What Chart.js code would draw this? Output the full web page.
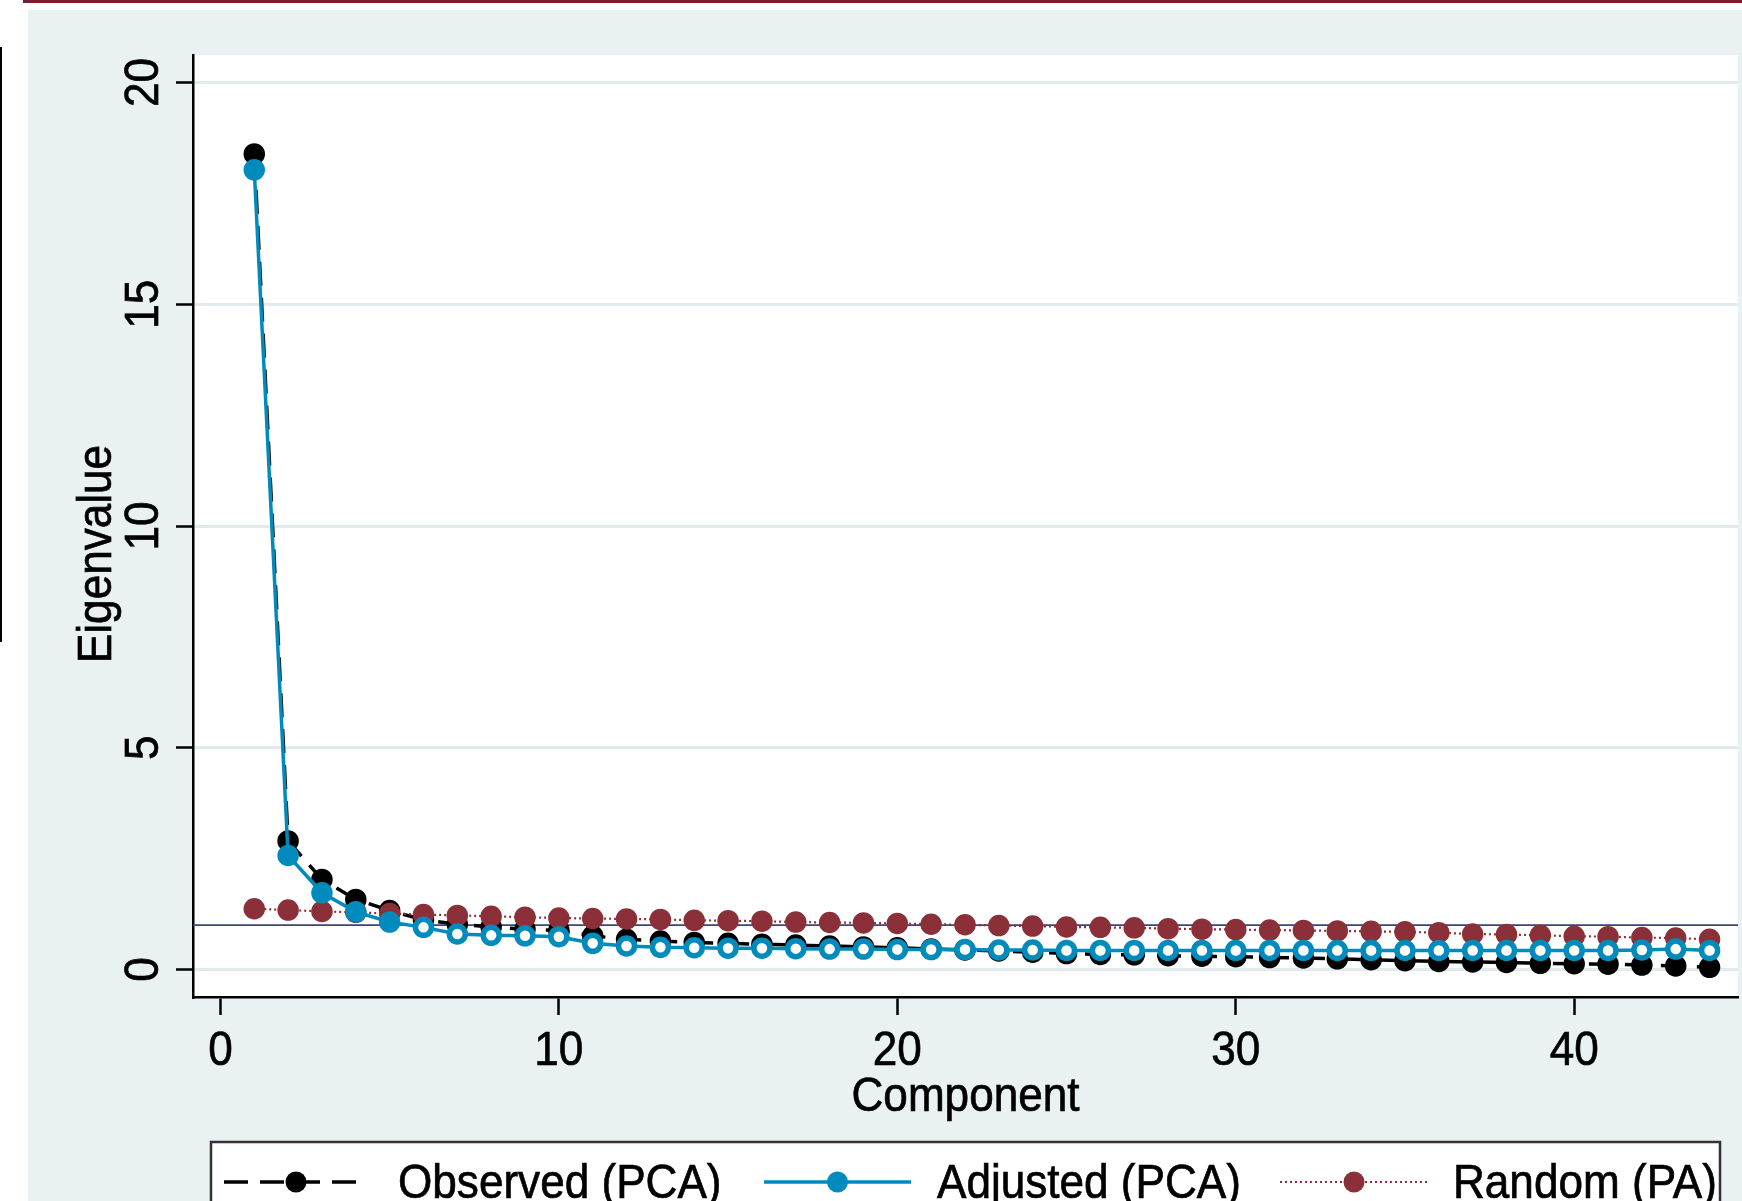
<!DOCTYPE html>
<html>
<head>
<meta charset="utf-8">
<script src="https://cdn.jsdelivr.net/npm/chart.js@4.4.1/dist/chart.umd.min.js"></script>
<style>
  html, body { margin: 0; padding: 0; background: #fff; }
  #wrap { width: 1742px; height: 1201px; }
</style>
</head>
<body>
<div id="wrap"><canvas id="screePlot" width="1742" height="1201"></canvas></div>
<script>
// data
const components = [1, 2, 3, 4, 5, 6, 7, 8, 9, 10, 11, 12, 13, 14, 15, 16, 17, 18, 19, 20, 21, 22,
  23, 24, 25, 26, 27, 28, 29, 30, 31, 32, 33, 34, 35, 36, 37, 38, 39, 40, 41, 42, 43, 44]
const observed = [18.39, 2.90, 2.03, 1.58, 1.33, 1.12, 1.02, 0.96, 0.91, 0.88, 0.76, 0.68, 0.64, 0.61,
  0.59, 0.57, 0.55, 0.53, 0.51, 0.49, 0.46, 0.44, 0.42, 0.39, 0.36, 0.34, 0.33, 0.31, 0.30, 0.29,
  0.27, 0.26, 0.24, 0.22, 0.20, 0.18, 0.17, 0.16, 0.14, 0.13, 0.12, 0.10, 0.08, 0.05]
const adjusted = [18.03, 2.57, 1.73, 1.30, 1.07, 0.95, 0.80, 0.77, 0.76, 0.74, 0.59, 0.53, 0.50, 0.49,
  0.48, 0.48, 0.47, 0.46, 0.46, 0.45, 0.45, 0.45, 0.44, 0.44, 0.43, 0.43, 0.43, 0.43, 0.43, 0.43,
  0.43, 0.43, 0.43, 0.43, 0.43, 0.43, 0.43, 0.43, 0.43, 0.43, 0.43, 0.44, 0.46, 0.43]
const random = [1.37, 1.34, 1.31, 1.29, 1.26, 1.24, 1.22, 1.20, 1.18, 1.16, 1.15, 1.14, 1.13, 1.11,
  1.10, 1.09, 1.07, 1.06, 1.05, 1.04, 1.02, 1.01, 0.99, 0.98, 0.96, 0.95, 0.94, 0.92, 0.91, 0.90,
  0.89, 0.88, 0.87, 0.86, 0.85, 0.83, 0.80, 0.79, 0.77, 0.75, 0.74, 0.72, 0.71, 0.68]
const seriesNames = ['Observed (PCA)', 'Adjusted (PCA)', 'Random (PA)']
const xTicks = [0, 10, 20, 30, 40]
const yTicks = [0, 5, 10, 15, 20]
const refLine = 1
const xTitle = 'Component'
const yTitle = 'Eigenvalue'

// look
const BLUE = 'rgb(0, 139, 188)'
const RED = 'rgb(139, 48, 56)'
const BG = '#e9f1f3'
const GRID = '#e1ebee'
const FONT = '49px "Liberation Sans", Arial, sans-serif'
const SQUEEZE = 0.9

function squeezedText (ctx, text, x, y, align, angle) {
  ctx.save()
  ctx.translate(x, y)
  if (angle) ctx.rotate(angle)
  ctx.scale(SQUEEZE, 1)
  ctx.font = FONT
  ctx.fillStyle = '#000'
  ctx.strokeStyle = '#000'
  ctx.lineWidth = 0.7
  ctx.textAlign = align
  ctx.textBaseline = 'alphabetic'
  ctx.fillText(text, 0, 0)
  ctx.strokeText(text, 0, 0) // Stata's Helvetica renders a bit heavier
  ctx.restore()
}

const framePlugin = {
  id: 'frame',
  beforeDraw (chart) {
    const { ctx, chartArea } = chart
    ctx.save()
    ctx.fillStyle = '#fff'
    ctx.fillRect(0, 0, chart.width, chart.height)
    ctx.fillStyle = BG
    ctx.fillRect(28, 10, chart.width - 28, chart.height - 10)
    // bits of the page around the graph
    ctx.fillStyle = '#7a1b30'
    ctx.fillRect(23, 0, chart.width - 23, 3)
    ctx.fillStyle = '#000'
    ctx.fillRect(0, 47, 2, 595)
    ctx.fillStyle = '#fff'
    ctx.fillRect(chartArea.left, chartArea.top, chartArea.right - chartArea.left, chartArea.bottom - chartArea.top)
    ctx.restore()
  },
  beforeDatasetsDraw (chart) {
    // horizontal line at eigenvalue = 1
    const { ctx, chartArea, scales } = chart
    const y = scales.y.getPixelForValue(refLine)
    ctx.save()
    ctx.strokeStyle = '#3d4574'
    ctx.lineWidth = 1.6
    ctx.beginPath()
    ctx.moveTo(chartArea.left, y)
    ctx.lineTo(chartArea.right, y)
    ctx.stroke()
    ctx.restore()
  },
  afterDraw (chart) {
    const { ctx, chartArea, scales } = chart
    // tick labels
    scales.x.ticks.forEach((t) => {
      squeezedText(ctx, String(t.value), scales.x.getPixelForValue(t.value), 1065, 'center')
    })
    scales.y.ticks.forEach((t) => {
      squeezedText(ctx, String(t.value), 158, scales.y.getPixelForValue(t.value), 'center', -Math.PI / 2)
    })
    // axis titles
    squeezedText(ctx, xTitle, (chartArea.left + chartArea.right) / 2, 1111, 'center')
    squeezedText(ctx, yTitle, 111, 554, 'center', -Math.PI / 2)

    // legend box
    ctx.save()
    ctx.fillStyle = '#fff'
    ctx.fillRect(211, 1142, 1509, 80)
    ctx.strokeStyle = '#333'
    ctx.lineWidth = 2.5
    ctx.strokeRect(211, 1142, 1509, 80)
    ctx.restore()
    const keys = [
      { x0: 224, x1: 368, tx: 398 },
      { x0: 764, x1: 911, tx: 937 },
      { x0: 1280, x1: 1428, tx: 1453 }
    ]
    const ly = 1182
    keys.forEach((k, i) => {
      const ds = chart.data.datasets[i]
      ctx.save()
      ctx.strokeStyle = ds.borderColor
      ctx.lineWidth = ds.borderWidth
      ctx.setLineDash(ds.borderDash || [])
      ctx.beginPath()
      ctx.moveTo(k.x0, ly)
      ctx.lineTo(k.x1, ly)
      ctx.stroke()
      ctx.setLineDash([])
      ctx.fillStyle = ds.borderColor
      ctx.beginPath()
      ctx.arc((k.x0 + k.x1) / 2, ly, 10.5, 0, Math.PI * 2)
      ctx.fill()
      ctx.restore()
      squeezedText(ctx, ds.label, k.tx, 1198, 'left')
    })
  }
}

const retained = adjusted.map((v) => v > refLine)

new Chart(document.getElementById('screePlot'), {
  type: 'line',
  data: {
    datasets: [
      {
        label: seriesNames[0],
        data: components.map((c, i) => ({ x: c, y: observed[i] })),
        borderColor: '#000',
        backgroundColor: '#000',
        borderWidth: 3.5,
        borderDash: [24, 12],
        pointRadius: 9,
        pointBorderWidth: 3.5,
        pointBackgroundColor: '#000',
        pointBorderColor: '#000',
        order: 3
      },
      {
        label: seriesNames[1],
        data: components.map((c, i) => ({ x: c, y: adjusted[i] })),
        borderColor: BLUE,
        backgroundColor: BLUE,
        borderWidth: 3.5,
        pointRadius: retained.map((r) => r ? 9 : 8),
        pointBorderWidth: retained.map((r) => r ? 3.5 : 5.5),
        pointBackgroundColor: retained.map((r) => r ? BLUE : '#fff'),
        pointBorderColor: BLUE,
        order: 1
      },
      {
        label: seriesNames[2],
        data: components.map((c, i) => ({ x: c, y: random[i] })),
        borderColor: RED,
        backgroundColor: RED,
        borderWidth: 2.2,
        borderDash: [2, 3],
        pointRadius: 9,
        pointBorderWidth: 3.5,
        pointBackgroundColor: RED,
        pointBorderColor: RED,
        order: 2
      }
    ]
  },
  options: {
    responsive: false,
    animation: false,
    devicePixelRatio: 1,
    layout: { autoPadding: false, padding: { top: 55, right: 4, left: 0, bottom: 0 } },
    plugins: {
      legend: { display: false },
      tooltip: { enabled: false }
    },
    scales: {
      x: {
        type: 'linear',
        min: -0.81,
        max: 44.84,
        afterBuildTicks: (scale) => { scale.ticks = xTicks.map((v) => ({ value: v })) },
        afterFit: (scale) => { scale.height = 204 },
        ticks: { display: false },
        grid: { drawOnChartArea: false, drawTicks: true, tickLength: 18, tickColor: '#000', tickWidth: 2.5 },
        border: { color: '#000', width: 2.5 }
      },
      y: {
        type: 'linear',
        min: -0.62,
        max: 20.62,
        afterBuildTicks: (scale) => { scale.ticks = yTicks.map((v) => ({ value: v })) },
        afterFit: (scale) => { scale.width = 193 },
        ticks: { display: false },
        grid: { color: GRID, lineWidth: 3, tickLength: 17, tickColor: '#000', tickWidth: 2.5 },
        border: { color: '#000', width: 2.5 }
      }
    }
  },
  plugins: [framePlugin]
})
</script>
</body>
</html>
